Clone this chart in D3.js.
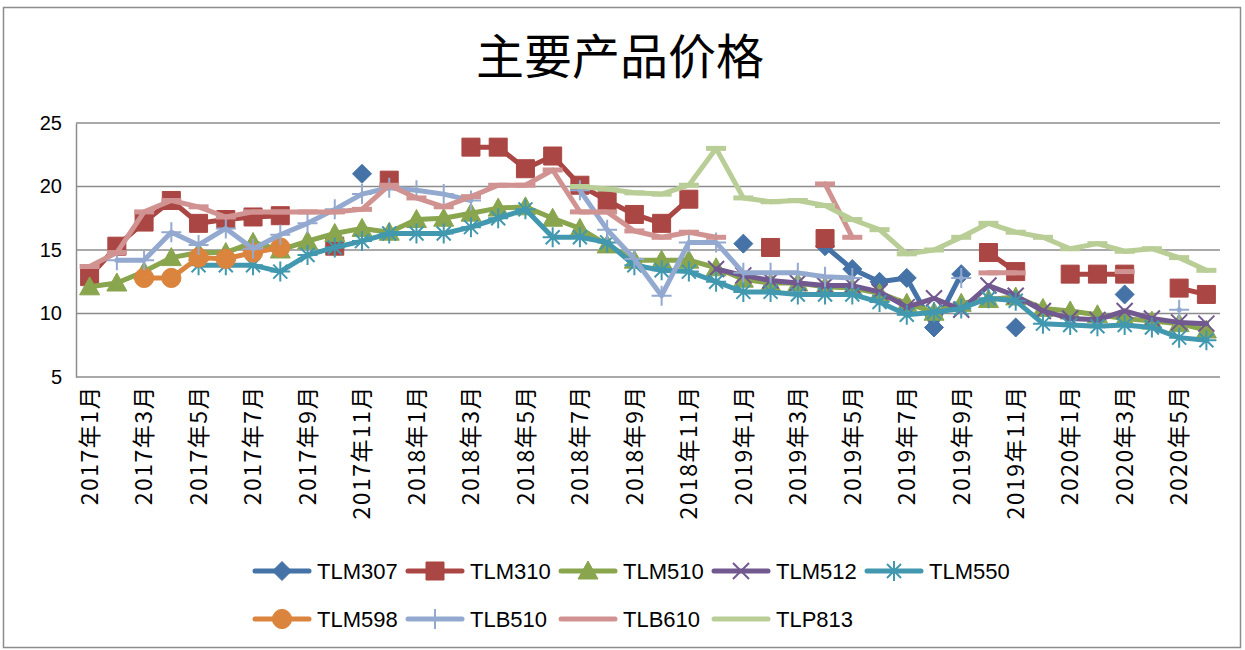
<!DOCTYPE html>
<html><head><meta charset="utf-8">
<script src="https://cdn.jsdelivr.net/npm/d3@7"></script>
<style>body{margin:0;background:#fff}svg{display:block}</style>
</head><body>
<svg id="chart" width="1245" height="650"></svg>
<script>
const title = "主要产品价格";
const categories = [
"2017年1月","2017年2月","2017年3月","2017年4月","2017年5月","2017年6月","2017年7月","2017年8月","2017年9月","2017年10月","2017年11月","2017年12月",
"2018年1月","2018年2月","2018年3月","2018年4月","2018年5月","2018年6月","2018年7月","2018年8月","2018年9月","2018年10月","2018年11月","2018年12月",
"2019年1月","2019年2月","2019年3月","2019年4月","2019年5月","2019年6月","2019年7月","2019年8月","2019年9月","2019年10月","2019年11月","2019年12月",
"2020年1月","2020年2月","2020年3月","2020年4月","2020年5月","2020年6月"];
const yTicks = [5, 10, 15, 20, 25];
const _ = null;
const TLM307 = [_,_,_,_,_,_,_,_,_,_,21.0,_, _,_,_,_,_,_,_,_,_,_,_,_, 15.5,_,_,15.3,13.5,12.5,12.8,8.9,13.1,_,8.9,_, _,_,11.5,_,_,_];
const TLM310 = [12.9,15.3,17.2,18.9,17.1,17.4,17.6,17.7,_,15.3,_,20.5, _,_,23.1,23.1,21.4,22.4,20.1,18.9,17.8,17.1,19.0,_, _,15.2,_,15.9,_,_,_,_,_,14.8,13.3,_, 13.1,13.1,13.1,_,12.0,11.5];
const TLM510 = [12.1,12.4,13.3,14.4,14.8,14.8,15.6,15.0,15.7,16.3,16.7,16.4, 17.4,17.5,17.9,18.3,18.4,17.5,16.7,15.4,14.2,14.2,14.2,13.6, 12.7,12.4,12.4,12.1,12.0,11.6,10.8,10.1,10.8,11.1,11.3,10.4, 10.2,9.9,9.6,9.4,9.2,8.7];
const TLM512 = [_,_,_,_,_,_,_,_,_,_,_,_, _,_,_,_,_,_,_,_,_,_,_,13.5, 13.0,12.6,12.4,12.2,12.2,11.7,10.5,11.2,10.3,12.2,11.4,10.2, 9.6,9.5,10.2,9.6,9.3,9.2];
const TLM550 = [_,_,_,_,13.8,13.8,13.8,13.3,14.6,15.2,15.7,16.3, 16.3,16.3,16.8,17.5,18.2,16.0,16.0,15.6,13.8,13.4,13.3,12.5, 11.7,11.7,11.5,11.5,11.5,10.9,9.9,10.1,10.4,11.2,11.0,9.2, 9.1,9.0,9.1,8.9,8.1,7.9];
const TLM598 = [_,_,12.8,12.8,14.4,14.3,14.8,15.2,_,_,_,_, _,_,_,_,_,_,_,_,_,_,_,_, _,_,_,_,_,_,_,_,_,_,_,_, _,_,_,_,_,_];
const TLB510 = [_,14.2,14.2,16.4,15.4,16.7,15.1,16.2,17.1,18.2,19.4,19.9, 19.7,19.4,18.9,_,_,_,19.7,16.6,14.3,11.4,15.6,15.6, 13.2,13.2,13.2,12.9,12.8,_,_,_,12.8,_,_,_, _,_,_,_,10.3,_];
const TLB610 = [13.7,14.8,18.0,18.9,18.4,17.6,18.0,18.0,18.0,18.0,18.2,20.1, 19.1,18.4,19.2,20.1,20.1,21.3,18.0,18.0,16.5,16.0,16.4,16.0, _,_,_,20.2,16.0,_,_,_,_,13.2,13.2,_, _,_,13.3,_,_,_];
const TLP813 = [_,_,_,_,_,_,_,_,_,_,_,_, _,_,_,_,_,_,20.0,19.8,19.5,19.4,20.1,23.0, 19.1,18.8,18.9,18.5,17.4,16.6,14.7,15.0,16.0,17.1,16.4,16.0, 15.1,15.5,14.9,15.1,14.4,13.4];

const series = [
  {name:"TLM307", values:TLM307, color:"#4572A7", marker:"diamond"},
  {name:"TLM310", values:TLM310, color:"#AA4643", marker:"square"},
  {name:"TLM510", values:TLM510, color:"#89A54E", marker:"triangle"},
  {name:"TLM512", values:TLM512, color:"#71588F", marker:"x"},
  {name:"TLM550", values:TLM550, color:"#4198AF", marker:"star"},
  {name:"TLM598", values:TLM598, color:"#DB843D", marker:"circle"},
  {name:"TLB510", values:TLB510, color:"#93A9CF", marker:"plus"},
  {name:"TLB610", values:TLB610, color:"#D19392", marker:"dash"},
  {name:"TLP813", values:TLP813, color:"#B9CD96", marker:"dash"}
];

const svg = d3.select("#chart");
const m = {left:76, right:1220, top:123, bottom:377};
const x = d3.scaleBand().domain(categories).range([m.left, m.right]);
const y = d3.scaleLinear().domain([5,25]).range([m.bottom, m.top]);
const cx = c => x(c) + x.bandwidth()/2;

// outer frame
svg.append("rect").attr("x",3.5).attr("y",7.5).attr("width",1237).attr("height",640)
  .attr("fill","none").attr("stroke","#8c8c8c").attr("stroke-width",1.5);

// title
svg.append("text").attr("x",620).attr("y",74).attr("text-anchor","middle")
  .attr("font-family","'Noto Sans CJK SC'").attr("font-size",48).attr("fill","#000").text(title);

// grid
svg.append("g").selectAll("line").data(yTicks).join("line")
  .attr("x1",m.left).attr("x2",m.right).attr("y1",d=>y(d)).attr("y2",d=>y(d))
  .attr("stroke","#8c8c8c").attr("stroke-width",1.5);

// y axis
const yAxis = d3.axisLeft(y).tickValues(yTicks).tickSize(0).tickPadding(14);
const gy = svg.append("g").attr("transform",`translate(${m.left},0)`).call(yAxis);
gy.select(".domain").attr("stroke","#8c8c8c").attr("stroke-width",1.5);
gy.selectAll("text").attr("font-family","'Liberation Sans', Arial").attr("font-size",20).attr("fill","#000");

// x axis
const xAxis = d3.axisBottom(x).tickValues(categories.filter((d,i)=>i%2===0)).tickSize(0);
const gx = svg.append("g").attr("transform",`translate(0,${m.bottom})`).call(xAxis);
gx.select(".domain").remove();
gx.selectAll("text")
  .attr("font-family","'Noto Sans CJK SC'").attr("font-size",23).attr("fill","#000")
  .attr("letter-spacing","1.5px")
  .attr("transform","rotate(-90)").attr("text-anchor","end")
  .attr("x",-8).attr("y",0).attr("dy","0.36em");

// marker paths
function markerPath(type){
  switch(type){
    case "diamond": return "M0,-9.5L9.5,0L0,9.5L-9.5,0Z";
    case "square": return "M-9,-9H9V9H-9Z";
    case "triangle": return "M0,-10L10,8L-10,8Z";
    case "circle": return d3.symbol(d3.symbolCircle, 290)();
    case "x": return "M-8,-8L8,8M-8,8L8,-8";
    case "plus": return "M-10,0H10M0,-10V10";
    case "star": return "M-10,0H10M0,-10V10M-7,-7L7,7M-7,7L7,-7";
    case "dash": return "M-10,0H10";
  }
}
const filledMarkers = new Set(["diamond","square","triangle","circle"]);
function drawMarker(g, type, color, px, py){
  const p = g.append("path").attr("d", markerPath(type)).attr("transform",`translate(${px},${py})`);
  if(filledMarkers.has(type)) p.attr("fill",color).attr("stroke",color).attr("stroke-width",1);
  else if(type==="dash") p.attr("fill","none").attr("stroke",color).attr("stroke-width",5).attr("stroke-linecap","butt");
  else p.attr("fill","none").attr("stroke",color).attr("stroke-width",2);
}

const line = d3.line().defined(d=>d.v!==null).x(d=>cx(d.c)).y(d=>y(d.v));
const plot = svg.append("g");
series.forEach(s=>{
  const g = plot.append("g");
  const data = categories.map((c,i)=>({c, v:s.values[i]}));
  g.append("path").attr("d", line(data)).attr("fill","none").attr("stroke",s.color)
    .attr("stroke-width",5).attr("stroke-linejoin","round").attr("stroke-linecap","round");
  data.filter(d=>d.v!==null).forEach(d=>drawMarker(g, s.marker, s.color, cx(d.c), y(d.v)));
});

// legend
const legendRows = [[0,1,2,3,4],[5,6,7,8]];
const legendY = [571, 619];
const colX = [255, 408, 561, 714, 867];
legendRows.forEach((row,ri)=>{
  row.forEach((si,ci)=>{
    const s = series[si];
    const g = svg.append("g").attr("transform",`translate(${colX[ci]},${legendY[ri]})`);
    g.append("line").attr("x1",0).attr("x2",54).attr("y1",0).attr("y2",0)
      .attr("stroke",s.color).attr("stroke-width",5).attr("stroke-linecap","round");
    if(s.marker!=="dash") drawMarker(g, s.marker, s.color, 27, 0);
    g.append("text").attr("x",62).attr("y",0).attr("dy","0.36em")
      .attr("font-family","'Liberation Sans', Arial").attr("font-size",22).attr("fill","#000").text(s.name);
  });
});
</script>
</body></html>
